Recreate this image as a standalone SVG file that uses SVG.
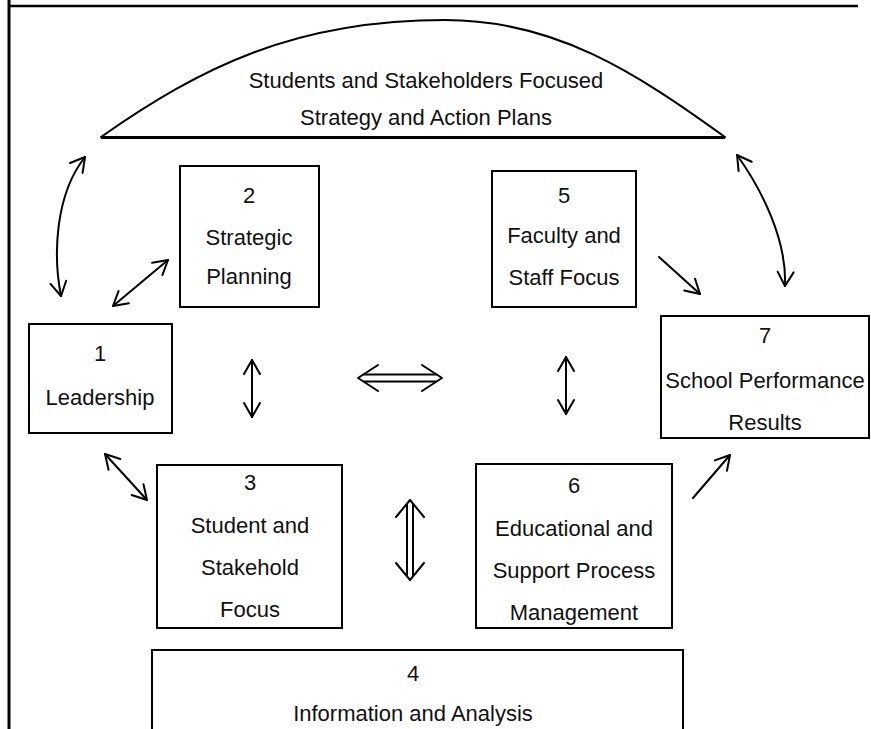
<svg xmlns="http://www.w3.org/2000/svg" width="871" height="729" viewBox="0 0 871 729">
<defs>
<style>
.box{fill:#fff;stroke:#000;stroke-width:2}
.t{font-family:"Liberation Sans",Arial,sans-serif;font-size:22px;text-anchor:middle;fill:#111}
.c{fill:none;stroke:#000;stroke-width:2;stroke-linecap:round;stroke-linejoin:round}
</style>
<marker id="h" markerUnits="userSpaceOnUse" viewBox="-16 -10 20 20" markerWidth="20" markerHeight="20" refX="0" refY="0" orient="auto-start-reverse">
<path d="M-14,-8 L0,0 L-14,8" fill="none" stroke="#000" stroke-width="2" stroke-linecap="round" stroke-linejoin="round"/>
</marker>
</defs>
<rect width="871" height="729" fill="#fff"/>
<g id="frame">
<line x1="9" y1="0" x2="9" y2="729" stroke="#000" stroke-width="3"/>
<line x1="8" y1="6" x2="858" y2="6" stroke="#000" stroke-width="2.5"/>
</g>
<g id="arch">
<path d="M101,137 C201,67 295,20 445,20 C555,20 635,72 725,137 Z" class="c"/>
<line x1="101" y1="137.5" x2="725" y2="137.5" stroke="#000" stroke-width="3"/>
<text class="t" x="426" y="88">Students and Stakeholders Focused</text>
<text class="t" x="426" y="125">Strategy and Action Plans</text>
</g>
<g id="n1">
<rect class="box" x="29" y="324" width="143" height="109"/>
<text class="t" x="100" y="361">1</text>
<text class="t" x="100" y="405">Leadership</text>
</g>
<g id="n2">
<rect class="box" x="180" y="166" width="139" height="141"/>
<text class="t" x="249" y="203">2</text>
<text class="t" x="249" y="245">Strategic</text>
<text class="t" x="249" y="284">Planning</text>
</g>
<g id="n5">
<rect class="box" x="492" y="171" width="144" height="136"/>
<text class="t" x="564" y="203">5</text>
<text class="t" x="564" y="243">Faculty and</text>
<text class="t" x="564" y="285">Staff Focus</text>
</g>
<g id="n7">
<rect class="box" x="661" y="316" width="208" height="122"/>
<text class="t" x="765" y="343">7</text>
<text class="t" x="765" y="388">School Performance</text>
<text class="t" x="765" y="430">Results</text>
</g>
<g id="n3">
<rect class="box" x="157" y="465" width="185" height="163"/>
<text class="t" x="250" y="490">3</text>
<text class="t" x="250" y="533">Student and</text>
<text class="t" x="250" y="575">Stakehold</text>
<text class="t" x="250" y="617">Focus</text>
</g>
<g id="n6">
<rect class="box" x="476" y="464" width="196" height="164"/>
<text class="t" x="574" y="493">6</text>
<text class="t" x="574" y="536">Educational and</text>
<text class="t" x="574" y="578">Support Process</text>
<text class="t" x="574" y="620">Management</text>
</g>
<g id="n4">
<rect class="box" x="152" y="650" width="531" height="100"/>
<text class="t" x="413" y="681">4</text>
<text class="t" x="413" y="721">Information and Analysis</text>
</g>
<g id="connectors">
<path class="c" d="M85,157 C55,195 53,255 61,296" marker-start="url(#h)" marker-end="url(#h)"/>
<path class="c" d="M737,155 C762,190 787,240 785,286" marker-start="url(#h)" marker-end="url(#h)"/>
<line class="c" x1="113" y1="306" x2="168" y2="260" marker-start="url(#h)" marker-end="url(#h)"/>
<line class="c" x1="105" y1="454" x2="147" y2="500" marker-start="url(#h)" marker-end="url(#h)"/>
<line class="c" x1="252" y1="360" x2="252" y2="417" marker-start="url(#h)" marker-end="url(#h)"/>
<line class="c" x1="566" y1="357" x2="566" y2="414" marker-start="url(#h)" marker-end="url(#h)"/>
<line class="c" x1="659" y1="257" x2="700" y2="294" marker-end="url(#h)"/>
<line class="c" x1="693" y1="498" x2="730" y2="455" marker-end="url(#h)"/>
<g id="dbl-h">
<line class="c" x1="364" y1="374.5" x2="436" y2="374.5"/>
<line class="c" x1="364" y1="381.5" x2="436" y2="381.5"/>
<path class="c" d="M378,365 L358,378 L378,391"/>
<path class="c" d="M422,365 L442,378 L422,391"/>
</g>
<g id="dbl-v">
<line class="c" x1="407" y1="505" x2="407" y2="575"/>
<line class="c" x1="413" y1="505" x2="413" y2="575"/>
<path class="c" d="M396,517 L410,500 L424,517"/>
<path class="c" d="M396,563 L410,580 L424,563"/>
</g>
</g>
</svg>
